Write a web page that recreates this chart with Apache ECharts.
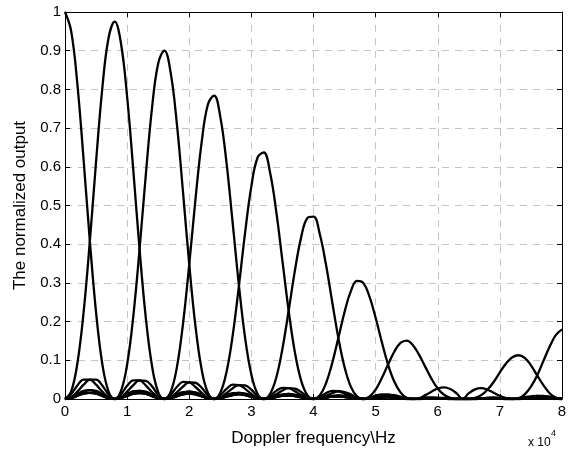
<!DOCTYPE html>
<html>
<head>
<meta charset="utf-8">
<script src="https://cdn.jsdelivr.net/npm/echarts@6/dist/echarts.min.js"></script>
<style>
html,body{margin:0;padding:0;background:#fff;}
#chart{width:575px;height:452px;}
</style>
</head>
<body>
<div id="chart"></div>
<script>
// Doppler frequency (x 10^4 Hz)
const freq = [
  0.0,0.1,0.2,0.3,0.4,0.5,0.6,0.7,0.8,0.9,
  1.0,1.1,1.2,1.3,1.4,1.5,1.6,1.7,1.8,1.9,
  2.0,2.1,2.2,2.3,2.4,2.5,2.6,2.7,2.8,2.9,
  3.0,3.1,3.2,3.3,3.4,3.5,3.6,3.7,3.8,3.9,
  4.0,4.1,4.2,4.3,4.4,4.5,4.6,4.7,4.8,4.9,
  5.0,5.1,5.2,5.3,5.4,5.5,5.6,5.7,5.8,5.9,
  6.0,6.1,6.2,6.3,6.4,6.5,6.6,6.7,6.8,6.9,
  7.0,7.1,7.2,7.3,7.4,7.5,7.6,7.7,7.8,7.9,
  8.0
];

// normalized output of each Doppler filter
const filter0 = [
  1,.950,.812,.617,.408,.224,.091,.020,0,.012,
  .034,.048,.048,.035,.018,.005,0,.004,.012,.018,
  .019,.015,.008,.002,0,.002,.006,.010,.012,.010,
  .005,.002,0,.001,.005,.008,.009,.008,.004,.001,
  0,.001,.004,.007,.009,.008,.005,.001,0,.001,
  .005,.009,.011,.010,.006,.002,0,.002,.010,.019,
  .027,.030,.026,.015,0,.015,.025,.028,.024,.016,
  .008,.002,0,.002,.005,.007,.008,.006,.003,.001,
  0
];
const filter1 = [
  0,.020,.093,.225,.408,.613,.802,.932,.975,.920,
  .781,.590,.387,.211,.086,.018,0,.011,.031,.044,
  .043,.031,.016,.004,0,.003,.010,.015,.016,.013,
  .007,.002,0,.002,.005,.008,.009,.007,.004,.001,
  0,.001,.003,.006,.006,.005,.003,.001,0,.001,
  .003,.004,.005,.004,.002,.001,0,.001,.002,.003,
  .003,.003,.001,0,0,0,.003,.010,.024,.044,
  .069,.092,.108,.113,.106,.087,.061,.036,.015,.004,
  0
];
const filter2 = [
  0,.005,.019,.037,.050,.050,.035,.012,0,.020,
  .089,.215,.387,.578,.751,.867,.900,.844,.712,.534,
  .348,.188,.076,.016,0,.010,.026,.037,.036,.026,
  .013,.003,0,.003,.008,.012,.013,.010,.005,.001,
  0,.001,.004,.006,.006,.005,.003,.001,0,.001,
  .002,.003,.004,.003,.002,0,0,0,.001,.002,
  .002,.001,0,0,0,0,.001,.002,.003,.004,
  .003,.001,0,.002,.012,.032,.061,.098,.135,.165,
  .180
];
const filter3 = [
  0,.003,.010,.018,.023,.021,.013,.004,0,.005,
  .019,.036,.048,.047,.033,.011,0,.018,.081,.195,
  .348,.516,.664,.761,.784,.729,.610,.453,.293,.157,
  .063,.013,0,.008,.021,.029,.028,.020,.010,.003,
  0,.002,.006,.008,.009,.007,.003,.001,0,.001,
  .002,.003,.004,.003,.001,0,0,0,.001,.001,
  .001,.001,0,0,0,0,0,.001,.001,.002,
  .001,0,0,.001,.003,.005,.008,.008,.006,.002,
  0
];
const filter4 = [
  0,.002,.008,.014,.016,.014,.008,.003,0,.003,
  .010,.017,.021,.019,.012,.004,0,.005,.017,.032,
  .043,.042,.029,.010,0,.016,.070,.165,.293,.431,
  .550,.624,.637,.586,.485,.357,.228,.121,.048,.010,
  0,.006,.015,.021,.020,.014,.007,.002,0,.001,
  .003,.005,.005,.004,.002,0,0,0,.001,.001,
  .001,.001,0,0,0,0,0,.001,.001,.001,
  .001,0,0,0,.001,.003,.003,.003,.002,.001,
  0
];
const filter5 = [
  0,.003,.009,.014,.016,.014,.008,.002,0,.002,
  .008,.013,.015,.013,.008,.002,0,.003,.009,.016,
  .019,.017,.011,.003,0,.004,.015,.028,.036,.035,
  .024,.008,0,.013,.055,.130,.228,.331,.417,.467,
  .471,.427,.348,.252,.158,.082,.032,.007,0,.004,
  .009,.012,.011,.007,.003,.001,0,.001,.001,.002,
  .002,.001,0,0,0,0,0,.001,.001,.001,
  .001,0,0,0,.001,.002,.002,.002,.001,.001,
  0
];
const filter6 = [
  0,.004,.013,.021,.023,.018,.010,.003,0,.003,
  .008,.014,.015,.013,.007,.002,0,.002,.007,.012,
  .014,.012,.007,.002,0,.002,.008,.013,.016,.014,
  .009,.003,0,.003,.012,.022,.028,.027,.018,.006,
  0,.009,.040,.092,.158,.225,.278,.305,.300,.265,
  .210,.147,.089,.045,.017,.003,0,.002,.004,.004,
  .003,.002,.001,0,0,0,0,.001,.001,.001,
  .001,0,0,0,.001,.002,.002,.002,.001,0,
  0
];
const filter7 = [
  0,.013,.035,.050,.050,.037,.019,.005,0,.004,
  .013,.020,.021,.017,.009,.003,0,.002,.007,.012,
  .014,.011,.007,.002,0,.002,.006,.010,.012,.010,
  .006,.002,0,.002,.006,.010,.013,.011,.007,.002,
  0,.002,.008,.015,.020,.018,.012,.004,0,.006,
  .024,.054,.089,.122,.145,.151,.139,.114,.083,.052,
  .027,.011,.003,0,0,0,.001,.002,.003,.003,
  .002,.001,0,.001,.002,.003,.003,.003,.002,.001,
  0
];

const filters = [filter0, filter1, filter2, filter3, filter4, filter5, filter6, filter7];
filters.forEach((f, i) => {
  if (f.length !== freq.length) throw new Error('filter' + i + ' length ' + f.length);
});

const xAxisTitle = 'Doppler frequency\\Hz';
const yAxisTitle = 'The normalized output';
const xExponent = 'x 10';
const xExponentPower = '4';

const FONT = '"Liberation Sans", Arial, Helvetica, sans-serif';
const W = 575, H = 452;

const chart = echarts.init(document.getElementById('chart'), null, {renderer: 'canvas', width: W, height: H});

const gridLine = {show: true, lineStyle: {color: '#c4c4c4', width: 1, type: [7, 6]}};
const axisLineStyle = {show: true, onZero: false, lineStyle: {color: '#000', width: 1}};
const tickIn = {show: true, inside: true, length: 5, lineStyle: {color: '#000', width: 1}};

chart.setOption({
  animation: false,
  backgroundColor: '#fff',
  grid: {left: 65, right: 13, top: 12, bottom: 50, containLabel: false},
  xAxis: [
    {
      type: 'value', position: 'bottom', min: 0, max: 8, interval: 1,
      axisLine: axisLineStyle, axisTick: tickIn,
      axisLabel: {color: '#000', fontSize: 15, fontFamily: FONT, margin: 5},
      splitLine: gridLine,
      name: xAxisTitle, nameLocation: 'middle', nameGap: 31,
      nameTextStyle: {color: '#000', fontSize: 17, fontFamily: FONT}
    },
    {
      type: 'value', position: 'top', min: 0, max: 8, interval: 1,
      axisLine: axisLineStyle, axisTick: tickIn,
      axisLabel: {show: false}, splitLine: {show: false}
    }
  ],
  yAxis: [
    {
      type: 'value', position: 'left', min: 0, max: 1, interval: 0.1,
      axisLine: axisLineStyle, axisTick: tickIn,
      axisLabel: {color: '#000', fontSize: 15, fontFamily: FONT, margin: 4,
        formatter: v => String(Math.round(v * 10) / 10)},
      splitLine: gridLine,
      name: yAxisTitle, nameLocation: 'middle', nameGap: 33, nameRotate: 90,
      nameTextStyle: {color: '#000', fontSize: 17, fontFamily: FONT}
    },
    {
      type: 'value', position: 'right', min: 0, max: 1, interval: 0.1,
      axisLine: axisLineStyle, axisTick: tickIn,
      axisLabel: {show: false}, splitLine: {show: false}
    }
  ],
  graphic: [
    {type: 'text', left: 528, top: 437, z: 10,
      style: {text: xExponent, fontSize: 12, fontFamily: FONT, fill: '#000'}},
    {type: 'text', left: 551, top: 429, z: 10,
      style: {text: xExponentPower, fontSize: 9, fontFamily: FONT, fill: '#000'}}
  ],
  series: filters.map((f, i) => ({
    name: 'filter' + i,
    type: 'line',
    xAxisIndex: 0, yAxisIndex: 0,
    data: freq.map((x, j) => [x, f[j]]),
    showSymbol: false, symbol: 'none',
    smooth: 0.4,
    lineStyle: {color: '#000', width: 2.3},
    itemStyle: {color: '#000'},
    clip: true,
    z: 3
  }))
});
</script>
</body>
</html>
